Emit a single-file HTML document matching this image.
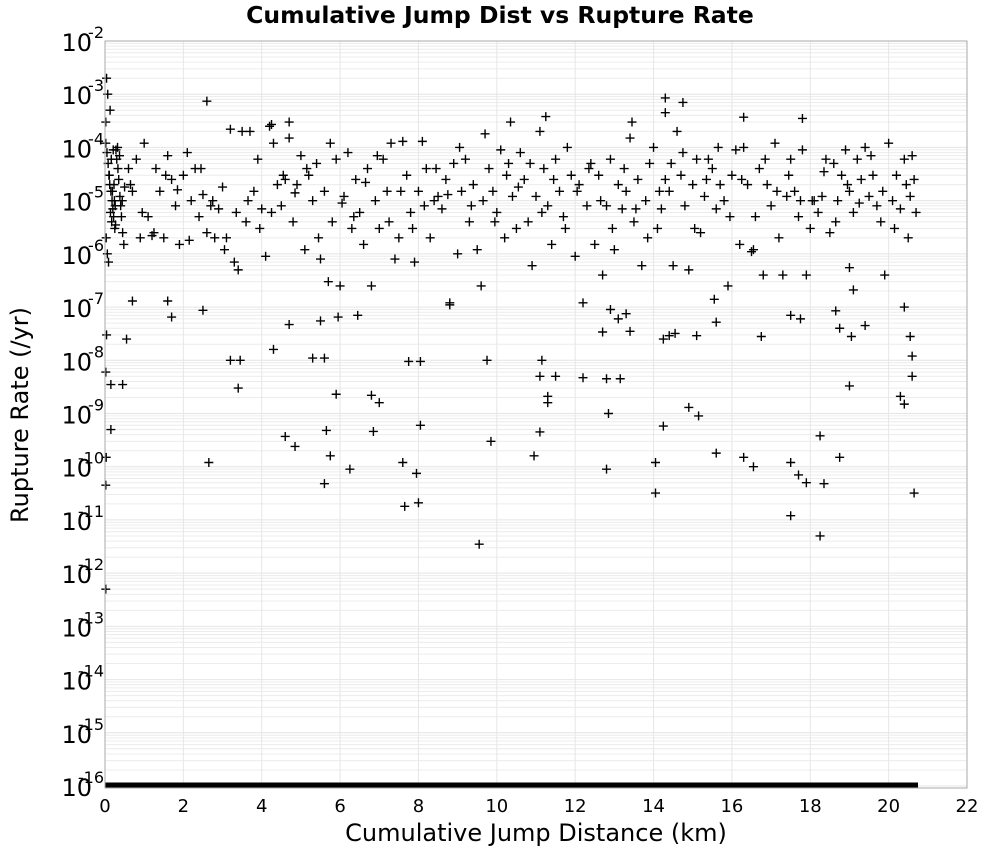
<!DOCTYPE html>
<html><head><meta charset="utf-8"><style>
body{margin:0;background:#fff;font-family:"DejaVu Sans","Liberation Sans",sans-serif}
svg{display:block}
</style></head><body>
<svg id="chart" width="1000" height="850" xmlns="http://www.w3.org/2000/svg" font-family="DejaVu Sans, Liberation Sans, sans-serif">
<rect width="1000" height="850" fill="#fff"/>
<text x="500" y="23" text-anchor="middle" font-size="23.5" font-weight="bold">Cumulative Jump Dist vs Rupture Rate</text>
<g id="grid"></g>
<g id="floor"></g>
<g id="points"></g>
<rect x="105" y="41" width="862" height="747" fill="none" stroke="#aaa" stroke-width="1"/>
<g id="yticks"></g>
<g id="xticks"></g>
<text x="536" y="841" text-anchor="middle" font-size="24">Cumulative Jump Distance (km)</text>
<text x="0" y="0" transform="translate(28,415) rotate(-90)" text-anchor="middle" font-size="24">Rupture Rate (/yr)</text>
</svg>
<script>
const xTicks=[0,2,4,6,8,10,12,14,16,18,20,22];
const yDecades=[-2,-3,-4,-5,-6,-7,-8,-9,-10,-11,-12,-13,-14,-15,-16];
const clusterDist=[0.02,0.05,0.08,0.1,0.12,0.15,0.18,0.2,0.22,0.25,0.28,0.3,0.33,0.35,0.38,0.4,0.42,0.45,0.48,0.5,0.03,0.06,0.09,0.11,0.14,0.17,0.19,0.21,0.24,0.27,0.02,0.04,0.07,0.13,0.16,0.23,0.26,0.32,0.37,0.44];
const clusterRate=[1.2e-4,8e-5,5e-5,3e-5,2e-5,1.5e-5,1e-5,7e-6,5e-6,3e-6,9e-5,6e-5,4e-5,2.5e-5,1.2e-5,8e-6,5e-6,2.5e-6,1.5e-6,1.8e-5,2e-6,1e-6,7e-7,3e-5,6e-6,4e-6,1.5e-5,9e-5,1e-5,3.5e-6,3e-4,2e-3,1e-3,5e-4,6e-5,2e-5,8e-6,1e-4,7e-5,1e-5];
const bandDist=[0.6,0.7,0.8,0.9,1.0,1.1,1.2,1.3,1.4,1.5,1.6,1.7,1.8,1.9,2.0,2.1,2.2,2.3,2.4,2.5,2.6,2.7,2.8,2.9,3.0,3.1,3.2,3.3,3.4,3.5,3.6,3.7,3.8,3.9,4.0,4.1,4.2,4.3,4.4,4.5,4.6,4.7,4.8,4.9,5.0,5.1,5.2,5.3,5.4,5.5,5.6,5.7,5.8,5.9,6.0,6.1,6.2,6.3,6.4,6.5,6.6,6.7,6.8,6.9,7.0,7.1,7.2,7.3,7.4,7.5,7.6,7.7,7.8,7.9,8.0,8.1,8.2,8.3,8.4,8.5,8.6,8.7,8.8,8.9,9.0,9.1,9.2,9.3,9.4,9.5,9.6,9.7,9.8,9.9,10.0,10.1,10.2,10.3,10.4,10.5,10.6,10.7,10.8,10.9,11.0,11.1,11.2,11.3,11.4,11.5,11.6,11.7,11.8,11.9,12.0,12.1,12.2,12.3,12.4,12.5,12.6,12.7,12.8,12.9,13.0,13.1,13.2,13.3,13.4,13.5,13.6,13.7,13.8,13.9,14.0,14.1,14.2,14.3,14.4,14.5,14.6,14.7,14.8,14.9,15.0,15.1,15.2,15.3,15.4,15.5,15.6,15.7,15.8,15.9,16.0,16.1,16.2,16.3,16.4,16.5,16.6,16.7,16.8,16.9,17.0,17.1,17.2,17.3,17.4,17.5,17.6,17.7,17.8,17.9,18.0,18.1,18.2,18.3,18.4,18.5,18.6,18.7,18.8,18.9,19.0,19.1,19.2,19.3,19.4,19.5,19.6,19.7,19.8,19.9,20.0,20.1,20.2,20.3,20.4,20.5,20.6,20.7,20.65,20.55];
const bandRate=[4e-5,1.5e-5,6e-5,2e-6,1.2e-4,5e-6,2.2e-6,4e-5,1.5e-5,2e-6,7e-5,2.5e-5,8e-6,1.5e-6,3e-5,8e-5,1e-5,4e-5,5e-6,1.3e-5,2.5e-6,8e-6,2e-6,7e-6,1.8e-5,2e-6,2.2e-4,7e-7,5e-7,2e-4,4e-6,2e-4,1.5e-5,6e-5,7e-6,9e-7,2.5e-4,1.2e-4,2e-5,8e-6,2.5e-5,1.5e-4,4e-6,2e-5,7e-5,1.2e-6,3e-5,1e-5,5e-5,8e-7,1.5e-5,3e-7,4e-6,6e-5,2.5e-7,1.2e-5,8e-5,3e-6,2.5e-5,6e-6,1.5e-6,4e-5,2.5e-7,1e-5,3e-6,6e-5,1.5e-5,1.2e-4,8e-7,2e-6,1.3e-4,3e-5,6e-6,7e-7,1.5e-5,1.3e-4,4e-5,2e-6,1e-5,1.2e-5,7e-6,2.5e-5,1.1e-7,5e-5,1e-6,1.5e-5,6e-5,4e-6,2e-5,1.2e-6,2.5e-7,1.8e-4,4e-5,1.5e-5,6e-6,9e-5,2e-6,5e-5,1.2e-5,3e-6,8e-5,2.5e-5,4e-6,6e-7,1.2e-5,2e-4,4e-5,8e-6,1.5e-6,6e-5,1.5e-5,5e-6,1e-4,3e-5,9e-7,2e-5,1.2e-7,8e-6,5e-5,1.5e-6,3e-5,4e-7,8e-6,6e-5,1.2e-6,2e-5,7e-6,1.5e-5,1.5e-4,4e-6,2.5e-5,6e-7,1e-5,5e-5,1e-4,3e-6,7e-6,2.5e-5,1.5e-5,6e-7,2e-4,3e-5,8e-6,5e-7,2e-5,6e-5,2.5e-6,1.2e-5,6e-5,4e-5,7e-6,2e-5,1e-5,2.5e-7,3e-5,9e-5,1.5e-6,1e-4,2e-5,1.1e-6,5e-6,4e-5,4e-7,2e-5,8e-6,1.2e-4,2e-6,4e-7,1.2e-5,6e-5,1.5e-5,5e-6,9e-5,4e-7,3e-6,1e-5,6e-6,1.2e-5,6e-5,2.5e-6,5e-5,1e-5,3e-5,9e-5,1.5e-5,6e-6,6e-5,2.5e-5,1e-4,1.2e-5,3e-5,8e-6,4e-6,4e-7,1.2e-4,1e-5,3e-5,7e-6,6e-5,2e-6,7e-5,6e-6,2.5e-5,1.2e-5];
const band2Dist=[0.65,0.95,1.25,1.55,1.85,2.15,2.45,2.75,3.05,3.35,3.65,3.95,4.25,4.55,4.85,5.15,5.45,5.75,6.05,6.35,6.65,6.95,7.25,7.55,7.85,8.15,8.45,8.75,9.05,9.35,9.65,9.95,10.25,10.55,10.85,11.15,11.45,11.75,12.05,12.35,12.65,12.95,13.25,13.55,13.85,14.15,14.45,14.75,15.05,15.35,15.65,15.95,16.25,16.55,16.85,17.15,17.45,17.75,18.05,18.35,18.65,18.95,19.25,19.55,19.85,20.15,20.45];
const band2Rate=[2e-5,6e-6,2.5e-6,3e-5,1.6e-5,1.8e-6,4e-5,1e-5,1.2e-6,6e-6,1e-5,3e-6,6e-6,3e-5,1.4e-5,4e-5,2e-6,1.2e-4,9e-6,5e-6,2.2e-5,7e-5,4e-6,1.5e-5,3e-6,8e-6,4e-5,1.3e-5,1e-4,8e-6,1e-5,4e-6,3e-5,1.8e-5,5e-5,6e-6,2.5e-5,3e-6,1.5e-5,4e-5,1e-5,3e-6,4e-5,7e-6,2e-6,1.5e-5,5e-5,8e-5,3e-6,2.5e-5,1e-4,5e-6,2.5e-5,1.2e-6,6e-5,1.5e-5,3e-5,1e-5,1e-5,3.5e-5,4e-6,2e-5,9e-6,7e-5,1.5e-5,3e-6,2e-5];
const outlierDist=[2.6,14.3,14.75,14.3,11.25,17.8,16.3,13.45,10.35,4.7,4.25,0.7,1.6,1.7,2.5,0.55,0.15,0.45,0.15,2.65,3.2,3.45,3.4,4.3,4.6,4.85,4.7,5.3,5.6,5.5,5.95,6.45,5.9,5.65,5.75,5.6,6.25,6.8,7.0,6.85,7.75,8.05,8.05,7.6,7.95,7.65,8.0,8.8,9.75,9.85,9.55,10.95,11.15,11.1,11.3,11.3,11.1,11.5,12.2,12.8,13.15,12.85,12.8,12.7,13.4,13.1,13.3,12.9,14.25,14.4,14.55,15.1,14.25,14.05,14.05,14.9,15.15,15.6,15.6,15.55,16.3,16.55,16.75,17.5,17.7,17.9,17.5,18.25,18.35,18.25,18.75,17.5,17.75,18.65,18.75,19.05,19.1,19.0,19.4,19.0,20.3,20.55,20.4,20.6,20.6,20.65,20.4,0.02,0.02,0.03,0.04,0.02];
const outlierRate=[7.4e-4,8.5e-4,7e-4,4.5e-4,3.8e-4,3.5e-4,3.7e-4,3e-4,3e-4,3e-4,2.7e-4,1.3e-7,1.3e-7,6.5e-8,8.7e-8,2.5e-8,3.5e-9,3.5e-9,5e-10,1.2e-10,1e-8,1e-8,3e-9,1.6e-8,3.7e-10,2.4e-10,4.7e-8,1.1e-8,1.1e-8,5.5e-8,6.5e-8,7e-8,2.3e-9,4.8e-10,1.6e-10,4.8e-11,9e-11,2.2e-9,1.6e-9,4.6e-10,9.5e-9,9.5e-9,6e-10,1.2e-10,7.5e-11,1.8e-11,2.1e-11,1.2e-7,1e-8,3e-10,3.5e-12,1.6e-10,1e-8,5e-9,2.1e-9,1.6e-9,4.5e-10,5e-9,4.7e-9,4.5e-9,4.5e-9,1e-9,9e-11,3.4e-8,3.5e-8,6e-8,7.5e-8,9e-8,2.5e-8,2.9e-8,3.2e-8,2.9e-8,5.8e-10,1.2e-10,3.2e-11,1.3e-9,9e-10,1.8e-10,5.2e-8,1.4e-7,1.5e-10,1e-10,2.8e-8,1.2e-10,7e-11,5e-11,1.2e-11,3.8e-10,4.8e-11,5e-12,1.5e-10,7e-8,6e-8,8.5e-8,4e-8,2.8e-8,2.1e-7,5.5e-7,4.5e-8,3.3e-9,2.1e-9,2.8e-8,1e-7,1.2e-8,5e-9,3.2e-11,1.5e-9,4.5e-11,5e-13,1.5e-10,3e-8,6e-9];
const floorDist=[0,20.75];
const floorRate=1e-16;

const NS='http://www.w3.org/2000/svg';
const X0=105,X1=967,Y0=41,Y1=786;
function xs(v){return X0+(v-0)/(22-0)*(X1-X0);}
function ys(r){const l=Math.log10(r);return Y0+(-2-l)/14*(Y1-Y0);}
function mk(tag,attrs,parent){const e=document.createElementNS(NS,tag);for(const k in attrs)e.setAttribute(k,attrs[k]);parent.appendChild(e);return e;}
const grid=document.getElementById('grid');
for(const d of yDecades){
  if(d>-16){for(let m=2;m<=9;m++){const y=ys(m*Math.pow(10,d-1));
    const l=mk('line',{x1:X0,x2:X1,y1:y,y2:y,stroke:'#ececec','stroke-width':1},grid);
    
    }}
  const y=ys(Math.pow(10,d));
  const l=mk('line',{x1:X0,x2:X1,y1:y,y2:y,stroke:'#e4e4e4','stroke-width':1},grid);
  
  
}
const xt=document.getElementById('xticks');
for(const t of xTicks){const x=xs(t);
  const l=mk('line',{x1:x,x2:x,y1:Y0,y2:Y1,stroke:'#e6e6e6','stroke-width':1},grid);
  
  
  const tx=mk('text',{x:x,y:812,'text-anchor':'middle','font-size':18},xt);
  
  
  tx.textContent=t;}
const yt=document.getElementById('yticks');
for(const d of yDecades){const y=ys(Math.pow(10,d));
  const g=mk('text',{x:92,y:y+10,'text-anchor':'end','font-size':24},yt);
  
  
  g.textContent='10';
  const s=mk('text',{x:104,y:y-3,'font-size':16,'text-anchor':'end'},yt);
  
  
  s.textContent='-'+String(Math.abs(d));}
const fl=document.getElementById('floor');
const fline=mk('line',{x1:xs(floorDist[0]),x2:xs(floorDist[1]),y1:ys(floorRate)-1,y2:ys(floorRate)-1,stroke:'#000','stroke-width':5},fl);


const pts=document.getElementById('points');
function plot(dist,rate,name){for(let i=0;i<dist.length&&i<rate.length;i++){
  const x=xs(dist[i]),y=ys(rate[i]);
  const p=mk('path',{d:`M${x-4.5} ${y}H${x+4.5}M${x} ${y-4.5}V${y+4.5}`,stroke:'#000','stroke-width':1.4,fill:'none'},pts);
  
  }}
plot(clusterDist,clusterRate,'point-marker');
plot(bandDist,bandRate,'point-marker');
plot(band2Dist,band2Rate,'point-marker');
plot(outlierDist,outlierRate,'point-marker');
</script>
</body></html>
